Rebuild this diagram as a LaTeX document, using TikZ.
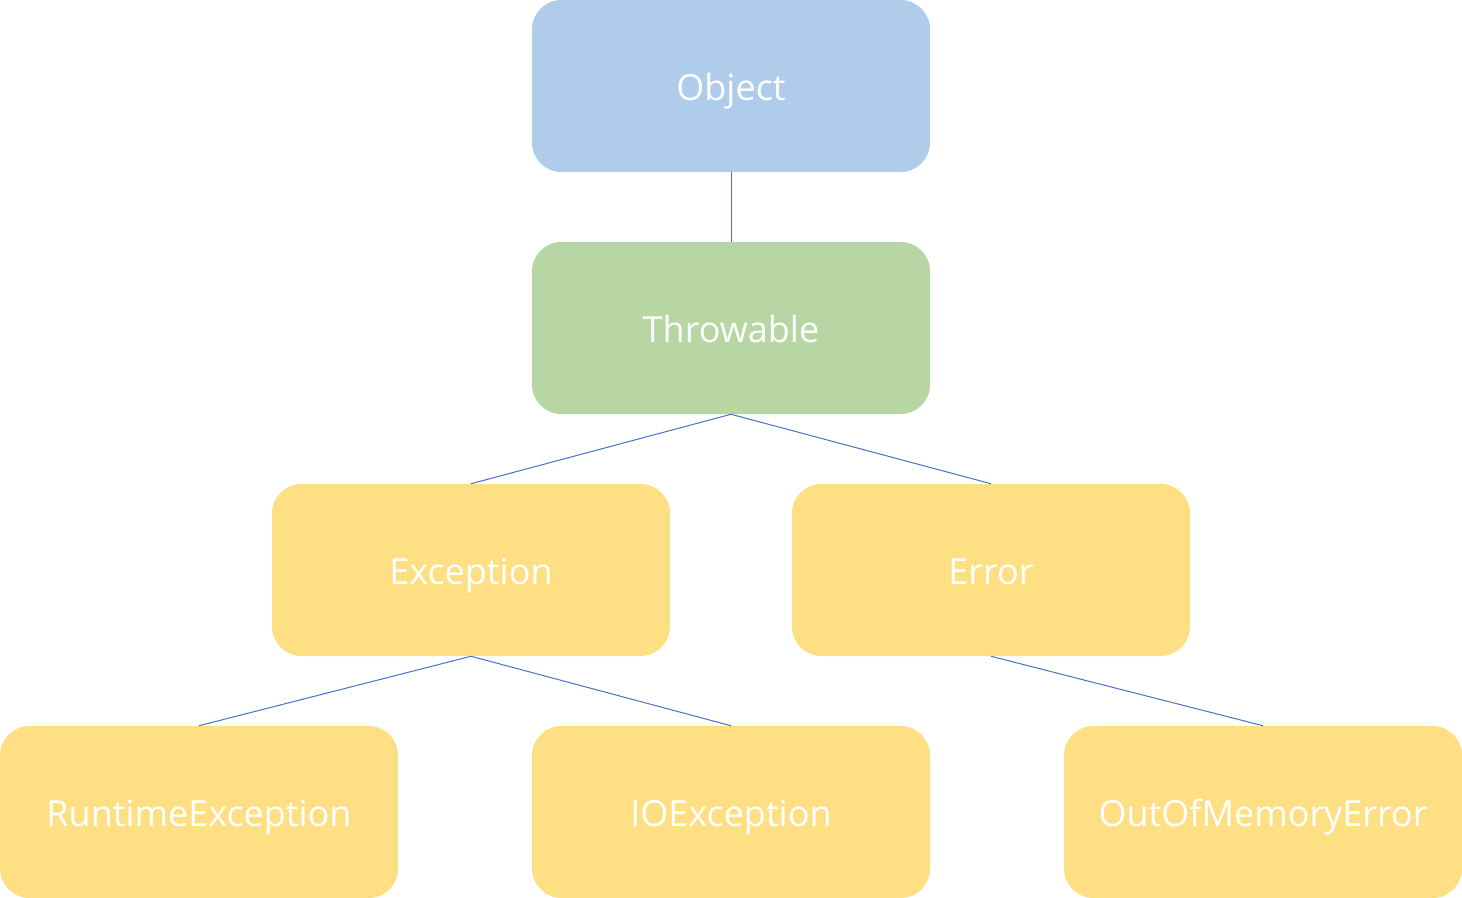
\documentclass[tikz,border=0pt]{standalone}
\usepackage{fontspec}
\setmainfont{Open Sans}
\definecolor{objblue}{HTML}{AFCDEA}
\definecolor{thrgreen}{HTML}{B8D6A4}
\definecolor{excyellow}{HTML}{FEDF84}
\definecolor{linkblue}{HTML}{4472C4}
\begin{document}
\begin{tikzpicture}[x=0.75pt, y=-0.75pt,
    classbox/.style={rounded corners=22pt, minimum width=298.5pt, minimum height=129pt,
        inner sep=0pt, text=white, text height=22pt, text depth=0pt,
        font=\fontsize{27}{32}\selectfont},
    link/.style={linkblue, line width=0.75pt}]
    \useasboundingbox (0,0) rectangle (1462,898);

    % Draw the class boxes
    \node[classbox, fill=objblue] (obj) at (731,86) {Object};
    \node[classbox, fill=thrgreen] (throwable) at (731,328) {Throwable};
    \node[classbox, fill=excyellow] (exception) at (471,570) {Exception};
    \node[classbox, fill=excyellow] (error) at (991,570) {Error};
    \node[classbox, fill=excyellow] (runtime) at (199,812) {RuntimeException};
    \node[classbox, fill=excyellow] (ioexc) at (731,812) {IOException};
    \node[classbox, fill=excyellow] (oom) at (1263,812) {OutOfMemoryError};

    % Draw the inheritance links
    \foreach \Parent/\Child in {obj/throwable, throwable/exception, throwable/error,
        exception/runtime, exception/ioexc, error/oom}{
        \draw[link] (\Parent.south) -- (\Child.north);
    }
\end{tikzpicture}
\end{document}
